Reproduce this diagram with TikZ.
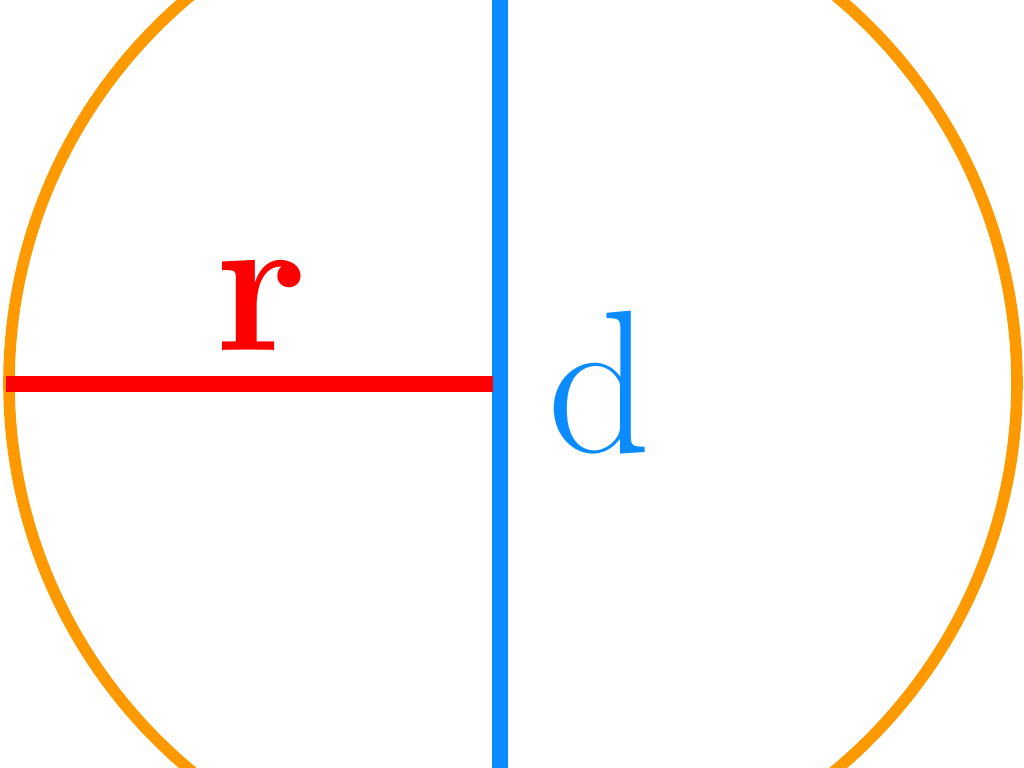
\documentclass[tikz,border=0pt]{standalone}
\usetikzlibrary{positioning}
\definecolor{ringorange}{HTML}{FF9900}
\definecolor{diamblue}{HTML}{0A8CFF}
\definecolor{radred}{HTML}{FF0000}

\begin{document}
\begin{tikzpicture}[line width=10pt]
  \useasboundingbox (0,0) rectangle (10.24,7.68);
  \clip (0,0) rectangle (10.24,7.68);

  % circle
  \coordinate (ctr) at (5.13,3.85);
  \draw[ringorange, line width=3.3pt] (ctr) circle (5.04);

  % diameter, vertical, running off the page
  \coordinate (dtop) at (5.00,7.9);
  \coordinate (dbot) at (5.00,-0.2);
  \draw[diamblue, line width=4.6pt] (dtop) -- (dbot);

  % radius from left edge to the diameter
  \coordinate (rleft) at (0.06,3.84);
  \coordinate (rend) at (4.93,3.84);
  \draw[radred, line width=4.4pt] (rleft) -- (rend);

  % labels
  \node[radred, font=\fontsize{57}{57}\selectfont\bfseries] (rlab) at (2.62,4.63) {r};
  \node[diamblue, font=\fontsize{58}{58}\selectfont] (dlab) at (6.00,3.85) {d};
\end{tikzpicture}
\end{document}
